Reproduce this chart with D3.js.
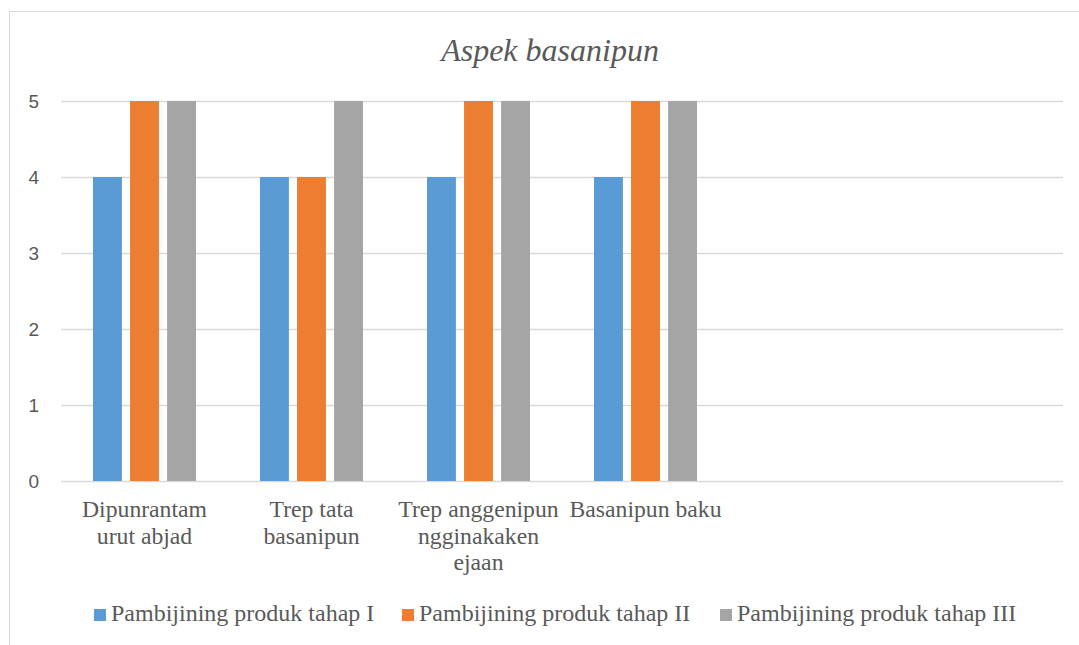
<!DOCTYPE html>
<html>
<head>
<meta charset="utf-8">
<script src="https://cdn.jsdelivr.net/npm/d3@7"></script>
<style>
  html, body { margin: 0; padding: 0; background: #fff; }
  svg { display: block; }
</style>
</head>
<body>
<svg id="chart" width="1079" height="645"></svg>
<script>
// Chart data
const title = 'Aspek basanipun';
const categories = [
    ['Dipunrantam', 'urut abjad'],
    ['Trep tata', 'basanipun'],
    ['Trep anggenipun', 'ngginakaken', 'ejaan'],
    ['Basanipun baku'],
    [],
    []
];
const seriesNames = ['Pambijining produk tahap I', 'Pambijining produk tahap II', 'Pambijining produk tahap III'];
const tahap1 = [4, 4, 4, 4, null, null];
const tahap2 = [5, 4, 5, 5, null, null];
const tahap3 = [5, 5, 5, 5, null, null];
const yTicks = [0, 1, 2, 3, 4, 5];
const colors = ['#5b9bd5', '#ed7d31', '#a5a5a5'];

const series = [tahap1, tahap2, tahap3];
const textColor = '#595959';

const svg = d3.select('#chart');

// outer chart frame (extends past the picture on right and bottom)
svg.append('rect')
    .attr('x', 9.5).attr('y', 11.5)
    .attr('width', 1090).attr('height', 700)
    .attr('fill', '#fff')
    .attr('stroke', '#d9d9d9')
    .attr('stroke-width', 1);

const margin = { left: 61, right: 1063, top: 101, bottom: 481 };

const x0 = d3.scaleBand()
    .domain(d3.range(categories.length))
    .range([margin.left, margin.right])
    .paddingInner(0).paddingOuter(0);

// groups of 3 bars: 29px bars with 8px gaps inside a 167px slot
const x1 = d3.scaleBand()
    .domain(d3.range(series.length))
    .range([32, x0.bandwidth() - 32])
    .paddingInner(0.22);

const y = d3.scaleLinear().domain([0, 5]).range([margin.bottom, margin.top]);

// Title
svg.append('text')
    .attr('x', 550).attr('y', 61)
    .attr('text-anchor', 'middle')
    .attr('font-family', '"Liberation Serif", "Times New Roman", serif')
    .attr('font-style', 'italic')
    .attr('font-size', 32)
    .attr('fill', textColor)
    .text(title);

// Gridlines
svg.append('g')
    .selectAll('line')
    .data(yTicks)
    .join('line')
    .attr('x1', margin.left).attr('x2', margin.right)
    .attr('y1', d => Math.round(y(d)) + 0.5)
    .attr('y2', d => Math.round(y(d)) + 0.5)
    .attr('stroke', '#d9d9d9')
    .attr('stroke-width', 1.5);

// Y axis labels
const yAxis = svg.append('g')
    .attr('transform', `translate(${margin.left - 22},0)`)
    .call(d3.axisLeft(y).tickValues(yTicks).tickSize(0).tickPadding(0).tickFormat(d3.format('d')));
yAxis.select('.domain').remove();
yAxis.selectAll('text')
    .attr('font-family', '"Liberation Sans", Arial, sans-serif')
    .attr('font-size', 19)
    .attr('fill', textColor);

// Bars
series.forEach((vals, si) => {
    svg.append('g')
        .selectAll('rect')
        .data(vals.map((v, i) => ({ i, v })).filter(d => d.v != null))
        .join('rect')
        .attr('x', d => x0(d.i) + x1(si))
        .attr('width', x1.bandwidth())
        .attr('y', d => y(d.v))
        .attr('height', d => y(0) - y(d.v))
        .attr('fill', colors[si]);
});

// Category labels
const catG = svg.append('g')
    .attr('font-family', '"Liberation Serif", "Times New Roman", serif')
    .attr('font-size', 23.7)
    .attr('fill', textColor)
    .attr('text-anchor', 'middle');

categories.forEach((lines, i) => {
    const t = catG.append('text')
        .attr('x', x0(i) + x0.bandwidth() / 2)
        .attr('y', 517);
    lines.forEach((ln, k) => {
        t.append('tspan')
            .attr('x', x0(i) + x0.bandwidth() / 2)
            .attr('dy', k === 0 ? 0 : 26.5)
            .text(ln);
    });
});

// Legend
const legendX = [94, 402, 720];
const legend = svg.append('g')
    .attr('font-family', '"Liberation Serif", "Times New Roman", serif')
    .attr('font-size', 24)
    .attr('fill', textColor);

seriesNames.forEach((name, i) => {
    legend.append('rect')
        .attr('x', legendX[i]).attr('y', 609)
        .attr('width', 12).attr('height', 12)
        .attr('fill', colors[i]);
    legend.append('text')
        .attr('x', legendX[i] + 17).attr('y', 621)
        .text(name);
});
</script>
</body>
</html>
